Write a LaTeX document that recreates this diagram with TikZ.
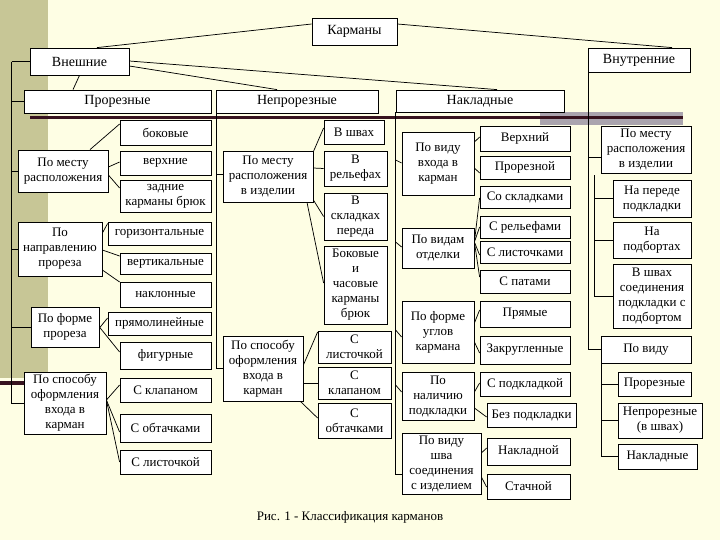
\documentclass[tikz,border=0pt]{standalone}
\usepackage{fontspec}
\setmainfont{Liberation Serif}
\usetikzlibrary{calc}
\newcommand\fs{\fontsize{9.75}{11.25}\selectfont}
\newcommand\fb{\fontsize{10.5}{12}\selectfont}
\definecolor{bgyel}{RGB}{254,254,228}
\definecolor{olivestrip}{RGB}{199,198,150}
\definecolor{darkline}{RGB}{55,18,30}
\definecolor{greyblk}{RGB}{170,164,174}
\tikzset{
  box/.style={draw, line width=0.6pt, fill=white, inner sep=0pt, align=center, font=\fs},
  big/.style={font=\fb},
  con/.style={line width=0.55pt},
}
\newcommand\bx[7][]{\node[box,#1,minimum width={(#5-#3)*0.75pt},minimum height={(#6-#4)*0.75pt}] (#2) at ({(#3+#5)/2},{(#4+#6)/2}) {#7};}
\begin{document}
\begin{tikzpicture}[x=0.75pt,y=-0.75pt]
\useasboundingbox (0,0) rectangle (720,540);
% background
\fill[bgyel] (0,0) rectangle (720,540);
\fill[olivestrip] (0,0) rectangle (48,378);
\fill[darkline] (0,381) rectangle (48,385);
\fill[greyblk] (540,112) rectangle (683,125);
\fill[darkline] (30,116) rectangle (683,119);

% top level
\bx[big]{kar}{312}{18}{397}{45}{Карманы}
\bx[big]{vne}{30}{48}{129}{75}{Внешние}
\bx[big]{vnu}{588}{48}{690}{72}{Внутренние}
\bx[big]{pro}{24}{90}{211}{113}{Прорезные}
\bx[big]{nep}{216}{90}{378}{113}{Непрорезные}
\bx[big]{nak}{396}{90}{564}{112}{Накладные}

% left column
\bx{l1}{18}{150}{108}{192}{По месту\\расположения}
\bx{l1a}{120}{120}{211}{145}{боковые}
\bx{l1b}{120}{151}{211}{175}{верхние}
\bx{l1c}{120}{180}{211}{212}{задние\\карманы брюк}
\bx{l2}{18}{222}{102}{276}{По\\направлению\\прореза}
\bx{l2a}{108}{222}{211}{245}{горизонтальные}
\bx{l2b}{120}{253}{211}{274}{вертикальные}
\bx{l2c}{120}{282}{211}{307}{наклонные}
\bx{l3}{31}{307}{99}{347}{По форме\\прореза}
\bx{l3a}{108}{312}{211}{335}{прямолинейные}
\bx{l3b}{120}{342}{211}{369}{фигурные}
\bx{l4}{24}{372}{106}{434}{По способу\\оформления\\входа в\\карман}
\bx{l4a}{120}{378}{211}{402}{С клапаном}
\bx{l4b}{120}{414}{211}{442}{С обтачками}
\bx{l4c}{120}{450}{211}{474}{С листочкой}

% middle column
\bx{m1}{223}{151}{313}{202}{По месту\\расположения\\в изделии}
\bx{m1a}{324}{120}{384}{144}{В швах}
\bx{m1b}{324}{151}{387}{186}{В\\рельефах}
\bx{m1c}{324}{193}{387}{240}{В\\складках\\переда}
\bx{m1d}{324}{246}{387}{324}{Боковые\\и\\часовые\\карманы\\брюк}
\bx{m2}{223}{336}{303}{401}{По способу\\оформления\\входа в\\карман}
\bx{m2a}{318}{331}{391}{363}{С\\листочкой}
\bx{m2b}{318}{367}{391}{399}{С\\клапаном}
\bx{m2c}{318}{403}{391}{438}{С\\обтачками}

% right-middle column
\bx{r1}{402}{132}{474}{195}{По виду\\входа в\\карман}
\bx{r1a}{480}{126}{570}{151}{Верхний}
\bx{r1b}{480}{156}{570}{179}{Прорезной}
\bx{r2}{402}{228}{474}{268}{По видам\\отделки}
\bx{r2a}{480}{186}{570}{208}{Со складками}
\bx{r2b}{480}{216}{570}{238}{С рельефами}
\bx{r2c}{480}{241}{570}{263}{С листочками}
\bx{r2d}{480}{270}{570}{293}{С патами}
\bx{r3}{402}{301}{474}{363}{По форме\\углов\\кармана}
\bx{r3a}{480}{301}{570}{327}{Прямые}
\bx{r3b}{480}{336}{570}{364}{Закругленные}
\bx{r4}{402}{372}{474}{420}{По\\наличию\\подкладки}
\bx{r4a}{480}{372}{570}{396}{С подкладкой}
\bx{r4b}{487}{403}{576}{427}{Без подкладки}
\bx{r5}{402}{433}{481}{494}{По виду\\шва\\соединения\\с изделием}
\bx{r5a}{487}{438}{570}{465}{Накладной}
\bx{r5b}{487}{474}{570}{499}{Стачной}

% right column
\bx{i1}{601}{126}{691}{173}{По месту\\расположения\\в изделии}
\bx{i1a}{613}{180}{691}{217}{На переде\\подкладки}
\bx{i1b}{613}{222}{691}{258}{На\\подбортах}
\bx{i1c}{613}{264}{691}{328}{В швах\\соединения\\подкладки с\\подбортом}
\bx{i2}{601}{336}{691}{363}{По виду}
\bx{i2a}{618}{372}{691}{396}{Прорезные}
\bx{i2b}{618}{403}{702}{438}{Непрорезные\\(в швах)}
\bx{i2c}{618}{444}{697}{469}{Накладные}

% caption
\node[font=\fs] (cap) at (350,517) {Рис. 1 - Классификация карманов};

% top connectors
\draw[con] ($(kar.west)+(0,-7.5)$) -- ($(vne.north)+(17.5,0)$);
\draw[con] ($(kar.east)+(0,-7.5)$) -- ($(vnu.north)+(33,0)$);
\draw[con] ($(vne.east)+(0,-0.5)$) -- ($(nak.north)+(17,0)$);
\draw[con] ($(vne.east)+(0,4.5)$) -- ($(nep.north)+(-20,0)$);
\draw[con] (vne.south) -- ($(pro.north)+(-44.5,0)$);

% left bus
\coordinate (Lt) at ($(vne.west)+(-18,0)$);
\coordinate (Lb) at (Lt|-l4.west);
\draw[con] (Lt) -- (Lb) -- (l4.west);
\draw[con] (Lt) -- (vne.west);
\draw[con] (Lt|-pro.west) -- (pro.west);
\draw[con] (Lt|-l1.west) -- (l1.west);
\draw[con] (Lt|-l2.west) -- (l2.west);
\draw[con] (Lt|-l3.west) -- (l3.west);

% left connectors
\draw[con] ($(l1.north)+(27,0)$) -- ($(l1a.west)+(0,-8.5)$);
\draw[con] ($(l1.east)+(0,-4)$) -- ($(l1b.west)+(0,-1)$);
\draw[con] ($(l1.east)+(0,4)$) -- ($(l1c.west)+(0,-8)$);
\draw[con] ($(l2.east)+(0,-16)$) -- ($(l2a.west)+(0,-10)$);
\draw[con] ($(l2.east)+(0,1)$) -- ($(l2b.west)+(0,-7.5)$);
\draw[con] ($(l2.east)+(0,21)$) -- ($(l2c.west)+(0,-12.5)$);
\draw[con] ($(l3.east)+(0,1)$) -- ($(l3a.west)+(0,-5.5)$);
\draw[con] (l3.east) -- ($(l3b.west)+(0,-3.5)$);
\draw[con] ($(l4.east)+(0,-3)$) -- ($(l4a.west)+(0,-5)$);
\draw[con] ($(l4.east)+(0,-3)$) -- ($(l4b.west)+(0,4)$);
\draw[con] ($(l4.east)+(0,-3)$) -- (l4c.west);

% middle bus
\coordinate (Mt) at ($(nep.south west)+(1,0)$);
\coordinate (Mb) at (Mt|-m2.west);
\draw[con] (Mt) -- (Mb) -- (m2.west);
\draw[con] ($(Mt|-m1.west)+(0,-2.5)$) -- ($(m1.west)+(0,-2.5)$);

% middle connectors
\draw[con] ($(m1.north east)+(0,1)$) -- ($(m1a.west)+(0,-4)$);
\draw[con] ($(m1.east)+(0,-8.5)$) -- (m1b.west);
\draw[con] ($(m1.east)+(0,23.5)$) -- (m1c.west);
\draw[con] ($(m1.south)+(39,0)$) -- ($(m1d.west)+(0,-2)$);
\draw[con] ($(m2.east)+(0,-3.5)$) -- ($(m2a.west)+(0,-15)$);
\draw[con] ($(m2.east)+(0,15)$) -- ($(m2b.west)+(0,0.5)$);
\draw[con] ($(m2.south east)+(-3,0)$) -- ($(m2c.west)+(0,-2.5)$);

% nakladnye bus
\coordinate (Nt) at (nak.south west);
\coordinate (Nb) at ($(Nt|-r5.west)+(0,10.5)$);
\draw[con] (Nt) -- (Nb) -- ($(r5.west)+(0,10.5)$);
\draw[con] ($(Nt|-r1.west)+(0,-3.5)$) -- ($(r1.west)+(0,-0.5)$);
\draw[con] ($(Nt|-r2.west)+(0,-6)$) -- ($(r2.west)+(0,-1)$);
\draw[con] ($(Nt|-r3.west)+(0,-2)$) -- ($(r3.west)+(0,5)$);
\draw[con] ($(Nt|-r4.west)+(0,-11)$) -- ($(r4.west)+(0,-4)$);

% right-middle connectors
\draw[con] ($(r1.east)+(0,-21.5)$) -- ($(r1a.west)+(0,-1.5)$);
\draw[con] ($(r1.east)+(0,4.5)$) -- ($(r1b.west)+(0,5.5)$);
\draw[con] ($(r2.east)+(0,-6)$) -- ($(r2a.west)+(0,1)$);
\draw[con] ($(r2.east)+(0,-6)$) -- (r2b.west);
\draw[con] ($(r2.east)+(0,-6)$) -- ($(r2c.west)+(0,3)$);
\draw[con] ($(r2.east)+(0,-6)$) -- ($(r2d.west)+(0,-4.5)$);
\draw[con] ($(r3.east)+(0,-9)$) -- ($(r3a.west)+(0,-4)$);
\draw[con] ($(r3.east)+(0,10)$) -- ($(r3b.west)+(0,3)$);
\draw[con] ($(r4.east)+(0,-4)$) -- ($(r4a.west)+(0,-1)$);
\draw[con] ($(r4.east)+(0,12)$) -- ($(r4b.west)+(0,2)$);
\draw[con] ($(r5.east)+(0,-10.5)$) -- ($(r5a.west)+(0,-3.5)$);
\draw[con] ($(r5.east)+(0,13.5)$) -- ($(r5b.west)+(0,0.5)$);

% right bus
\coordinate (It) at ($(vnu.south west)+(1,0)$);
\coordinate (Ib) at (It|-i2.west);
\draw[con] (It) -- (Ib) -- (i2.west);
\draw[con] ($(It|-i1.west)+(0,7.5)$) -- ($(i1.west)+(0,7.5)$);
\coordinate (Jt) at ($(i1.south west)+(-6,2)$);
\coordinate (Jb) at (Jt|-i1c.west);
\draw[con] (Jt) -- (Jb) -- (i1c.west);
\draw[con] (Jt|-i1a.west) -- (i1a.west);
\draw[con] (Jt|-i1b.west) -- (i1b.west);
\coordinate (Kt) at ($(i2.south west)+(1,0)$);
\coordinate (Kb) at (Kt|-i2c.west);
\draw[con] (Kt) -- (Kb) -- (i2c.west);
\draw[con] (Kt|-i2a.west) -- (i2a.west);
\draw[con] (Kt|-i2b.west) -- (i2b.west);
\end{tikzpicture}
\end{document}
